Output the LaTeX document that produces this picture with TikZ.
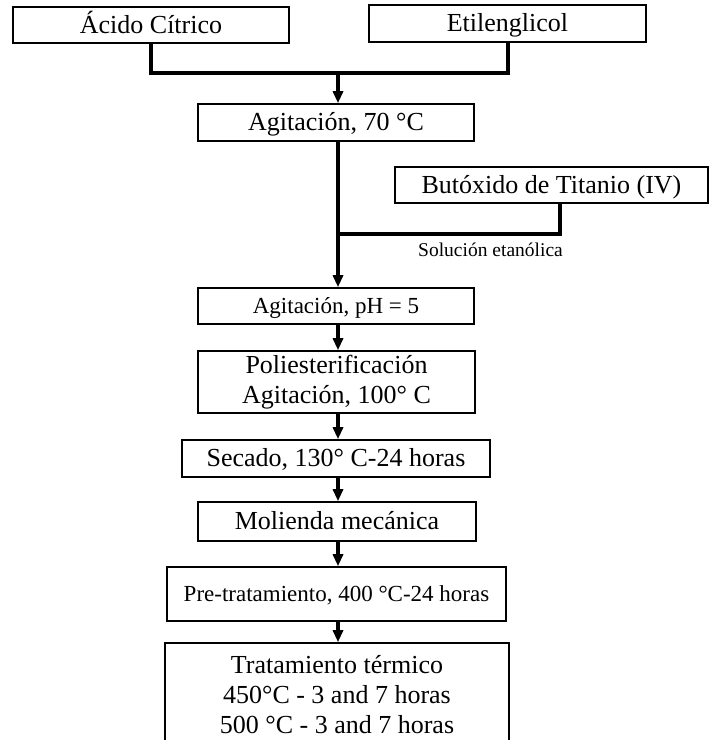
\documentclass[tikz,border=0pt]{standalone}
\usepackage{fontspec}
\setmainfont{Liberation Serif}
\usetikzlibrary{arrows.meta}
\begin{document}
\begin{tikzpicture}[x=0.5pt, y=-0.5pt,
               box_style/.style={draw=black, line width=0.8pt, inner sep=0pt, align=center, font=\fontsize{13}{15}\selectfont},
               line_box_style/.style={box_style, text height=9pt, text depth=1pt},
               small_box_style/.style={box_style, font=\fontsize{11.5}{14}\selectfont, text height=8pt, text depth=1pt},
               edge_style/.style={draw=black, line width=2pt},
               arrow_style/.style={edge_style, -{Triangle[width=5pt,length=6pt]}}]
                \useasboundingbox (0,0) rectangle (712,740);

                \node[line_box_style, minimum width=138pt, minimum height=18pt] (acido) at (151,25) {Ácido Cítrico};
                \node[line_box_style, minimum width=138.5pt, minimum height=18.5pt] (etil) at (507.5,23.5) {Etilenglicol};
                \node[line_box_style, minimum width=138pt, minimum height=18.5pt] (agit70) at (336,122.5) {Agitación, 70 °C};
                \node[line_box_style, minimum width=156.5pt, minimum height=18pt] (buto) at (551.5,185) {Butóxido de Titanio (IV)};
                \node[font=\fontsize{9.75}{12}\selectfont] (sol) at (490.5,250) {Solución etanólica};
                \node[small_box_style, minimum width=138pt, minimum height=18pt] (agitph) at (336,306) {Agitación, pH = 5};
                \node[box_style, minimum width=138.5pt, minimum height=31pt] (polies) at (336.5,382) {Poliesterificación\\Agitación, 100° C};
                \node[line_box_style, minimum width=154pt, minimum height=18.5pt] (secado) at (336,458.5) {Secado, 130° C-24 horas};
                \node[line_box_style, minimum width=139pt, minimum height=19.5pt] (molienda) at (337,521.5) {Molienda mecánica};
                \node[small_box_style, minimum width=169.5pt, minimum height=27pt] (pretrat) at (336.5,594) {Pre-tratamiento, 400 °C-24 horas};
                \node[box_style, minimum width=172pt, minimum height=52pt] (tratam) at (337,695) {Tratamiento térmico\\450°C - 3 and 7 horas\\500 °C - 3 and 7 horas};

                \coordinate (merge) at (338,73);
                \coordinate (mix) at (338,234);

                \draw[edge_style]  (acido.south) |- (merge) -| (etil.south);
                \draw[arrow_style] (merge) -- (agit70.north -| merge);
                \draw[edge_style]  (agit70.south -| mix) -- (mix);
                \draw[edge_style]  ([xshift=4.25pt]buto.south) |- (mix);
                \draw[arrow_style] (mix) -- (agitph.north -| mix);
                \draw[arrow_style] (agitph.south -| mix) -- (polies.north -| mix);
                \draw[arrow_style] (polies.south -| mix) -- (secado.north -| mix);
                \draw[arrow_style] (secado.south -| mix) -- (molienda.north -| mix);
                \draw[arrow_style] (molienda.south -| mix) -- (pretrat.north -| mix);
                \draw[arrow_style] (pretrat.south -| mix) -- (tratam.north -| mix);
            \end{tikzpicture}
\end{document}
